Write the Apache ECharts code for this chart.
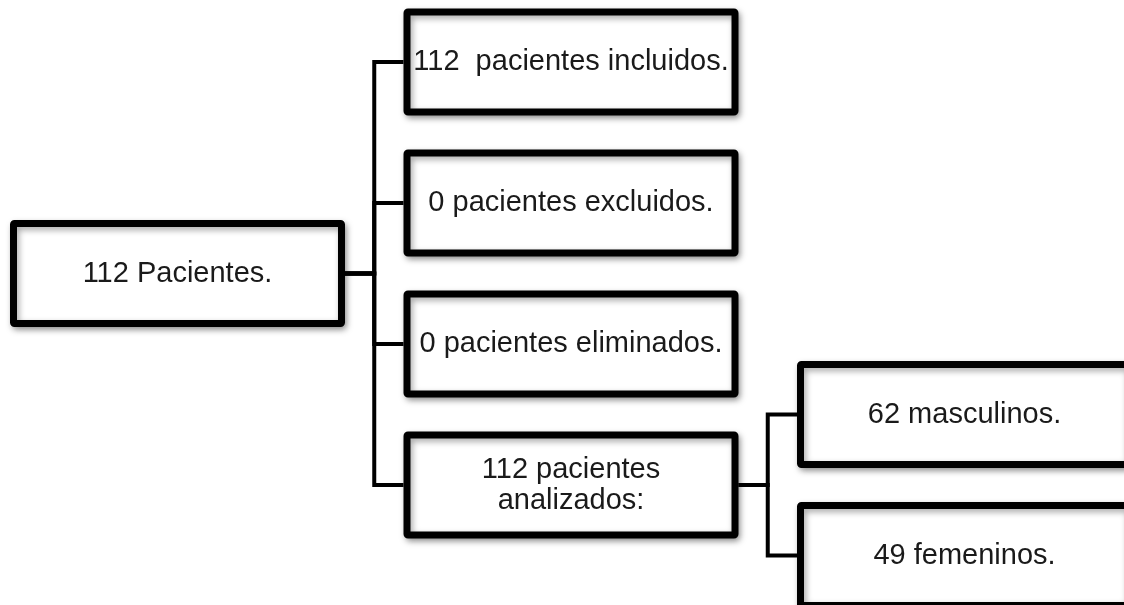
<!DOCTYPE html>
<html>
<head>
<meta charset="utf-8">
<script src="https://cdn.jsdelivr.net/npm/echarts@6/dist/echarts.min.js"></script>
<style>
html,body{margin:0;padding:0;background:#fff;}
#c{width:1124px;height:605px;}
</style>
</head>
<body>
<div id="c"></div>
<script>
// Node labels and the tree structure (index of parent, -1 = root)
const labels = ['112 Pacientes.', '112  pacientes incluidos.', '0 pacientes excluidos.', '0 pacientes eliminados.', '112 pacientes\nanalizados:', '62 masculinos.', '49 femeninos.'];
const parents = [-1, 0, 0, 0, 0, 4, 4];

// Derive tree levels and row order from the structure
const depth = parents.map(function () { return 0; });
for (let i = 0; i < parents.length; i++) {
  let d = 0, p = parents[i];
  while (p >= 0) { d++; p = parents[p]; }
  depth[i] = d;
}
const children = labels.map(function () { return []; });
parents.forEach(function (p, i) { if (p >= 0) children[p].push(i); });
const rows = labels.map(function () { return 0; });
// first level: sequential rows
labels.forEach(function (l, i) { if (depth[i] === 1) rows[i] = children[0].indexOf(i); });
// root: centred on its children
rows[0] = children[0].reduce(function (s, c) { return s + rows[c]; }, 0) / children[0].length;
// second level: spread around the parent
labels.forEach(function (l, i) {
  if (depth[i] === 2) {
    const sib = children[parents[i]];
    rows[i] = rows[parents[i]] + (sib.indexOf(i) - (sib.length - 1) / 2);
  }
});

const nodeData = labels.map(function (l, i) { return [depth[i], rows[i], i]; });
const edgeData = [];
parents.forEach(function (p, i) { if (p >= 0) edgeData.push([depth[p], rows[p], depth[i], rows[i]]); });

const BOX_W = 328, BOX_H = 100, BORDER = 7;
const FONT = '29px "Liberation Sans", Arial, sans-serif';

const chart = echarts.init(document.getElementById('c'), null, {renderer: 'canvas'});
chart.setOption({
  animation: false,
  backgroundColor: '#ffffff',
  grid: {left: 177.5, right: 159.5, top: 62, bottom: 49.5},
  xAxis: {type: 'value', min: 0, max: 2, show: false},
  yAxis: {type: 'value', min: 0, max: 3.5, inverse: true, show: false},
  series: [
    {
      type: 'custom',
      coordinateSystem: 'cartesian2d',
      clip: false,
      z: 1,
      data: edgeData,
      renderItem: function (params, api) {
        const a = api.coord([api.value(0), api.value(1)]);
        const b = api.coord([api.value(2), api.value(3)]);
        const x1 = a[0] + BOX_W / 2 + BORDER / 2;
        const x2 = b[0] - BOX_W / 2 - BORDER / 2;
        const bus = (x1 + x2) / 2;
        return {
          type: 'polyline',
          shape: {points: [[x1, a[1]], [bus, a[1]], [bus, b[1]], [x2, b[1]]]},
          style: {stroke: '#000', lineWidth: 4, fill: null, lineJoin: 'miter'}
        };
      }
    },
    {
      type: 'custom',
      coordinateSystem: 'cartesian2d',
      clip: false,
      z: 2,
      data: nodeData,
      renderItem: function (params, api) {
        const c = api.coord([api.value(0), api.value(1)]);
        const idx = api.value(2);
        return {
          type: 'group',
          children: [
            {
              type: 'rect',
              shape: {x: c[0] - BOX_W / 2, y: c[1] - BOX_H / 2, width: BOX_W, height: BOX_H, r: 1},
              style: {
                fill: '#ffffff', stroke: '#000000', lineWidth: BORDER, lineJoin: 'round',
                shadowBlur: 6, shadowColor: 'rgba(0,0,0,0.35)', shadowOffsetX: 2, shadowOffsetY: 3
              }
            },
            {
              type: 'text',
              x: c[0], y: c[1],
              style: {
                text: labels[idx], font: FONT, fill: '#1a1a1a',
                align: 'center', verticalAlign: 'middle', lineHeight: 31
              }
            }
          ]
        };
      }
    }
  ]
});
</script>
</body>
</html>
